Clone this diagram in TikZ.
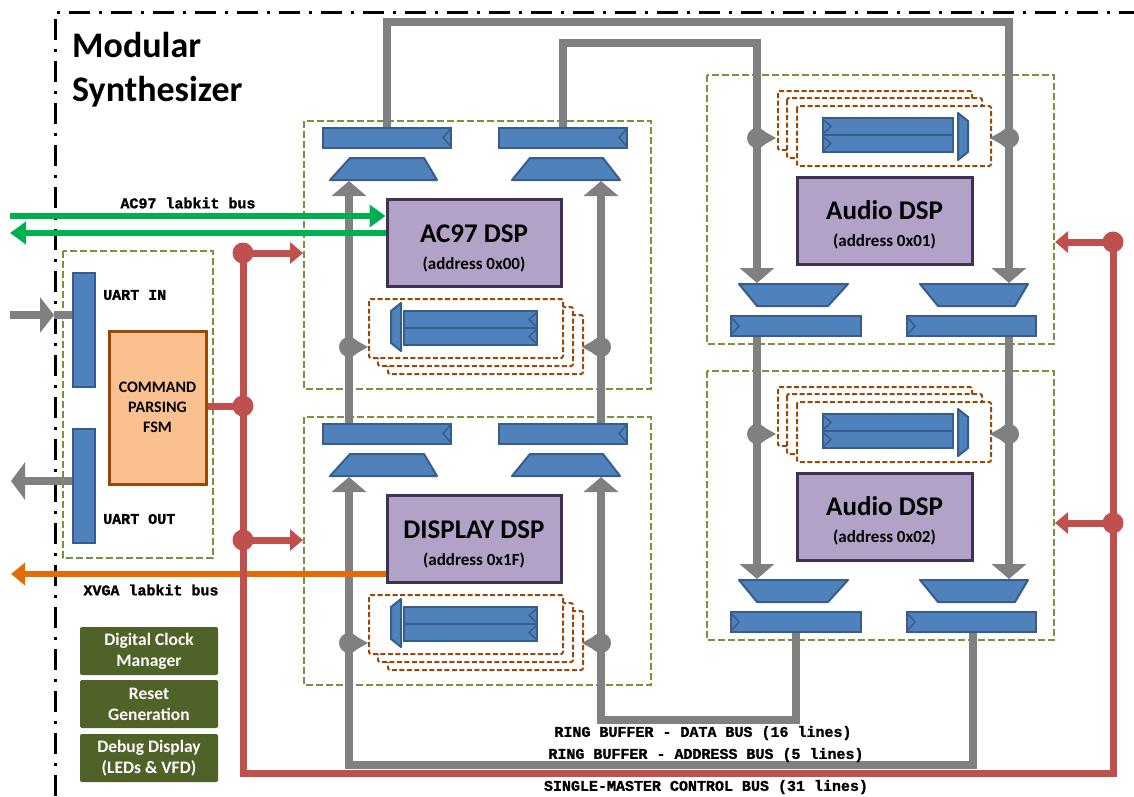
\documentclass[tikz,border=0pt]{standalone}
\usepackage{fontspec}
\setmainfont{Carlito}
\newfontfamily\monofont{Liberation Mono}[BoldFeatures={FakeBold=1.2}]
\usetikzlibrary{arrows.meta,calc}

\definecolor{regfill}{HTML}{4F81BD}
\definecolor{regline}{HTML}{385D8A}
\definecolor{blockgreen}{HTML}{77933C}
\definecolor{bankbrown}{HTML}{984807}
\definecolor{dspfill}{HTML}{B3A2C7}
\definecolor{dspline}{HTML}{3F3151}
\definecolor{busgray}{HTML}{808080}
\definecolor{busred}{HTML}{C0504D}
\definecolor{busgreen}{HTML}{00B050}
\definecolor{busorange}{HTML}{E36C09}
\definecolor{fsmfill}{HTML}{FAC090}
\definecolor{boxgreen}{HTML}{4F6228}

\pgfdeclarelayer{back}
\pgfdeclarelayer{buses}
\pgfsetlayers{back,buses,main}

\tikzset{
  reg/.style={draw=regline, fill=regfill, line width=2pt, inner sep=0pt, minimum width=128pt, minimum height=20pt},
  strip/.style={draw=regline, fill=regfill, line width=2pt, inner sep=0pt, minimum width=133pt, minimum height=17pt},
  uartreg/.style={draw=regline, fill=regfill, line width=2pt, inner sep=0pt, minimum width=22pt, minimum height=114pt},
  chev/.style={draw=regline, line width=1.5pt},
  muxshape/.style={draw=regline, fill=regfill, line width=2pt, line join=round},
  blockbox/.style={draw=blockgreen, line width=2.5pt, dash pattern=on 7pt off 3pt},
  bankbox/.style={draw=bankbrown, fill=white, line width=2pt, dash pattern=on 5pt off 2.5pt, rounded corners=2pt},
  dsp/.style={draw=dspline, fill=dspfill, line width=3pt, inner sep=0pt, align=center,
    minimum width=174pt, minimum height=87pt, font=\bfseries\fontsize{17}{27}\selectfont},
  bus/.style={draw=busgray, line width=8pt},
  busarrow/.style={bus, -{Triangle[width=34pt,length=15pt]}},
  redbus/.style={draw=busred, line width=7pt},
  redarrow/.style={redbus, -{Triangle[width=21pt,length=13pt]}},
  reddot/.style={circle, fill=busred, minimum size=21pt, inner sep=0pt},
  greenarrow/.style={draw=busgreen, line width=6pt, -{Triangle[width=22pt,length=16pt]}},
  orangearrow/.style={draw=busorange, line width=6pt, -{Triangle[width=22pt,length=14pt]}},
  monolabel/.style={font=\monofont\bfseries\fontsize{15}{15}\selectfont, inner sep=0pt},
  fsm/.style={draw=bankbrown, fill=fsmfill, line width=3pt, align=center, inner sep=0pt,
    minimum width=97pt, minimum height=153pt, font=\bfseries\fontsize{16}{20}\selectfont},
  greenbox/.style={fill=boxgreen, text=white, align=center, inner sep=0pt, rounded corners=2pt,
    minimum width=138pt, minimum height=48pt, font=\bfseries\fontsize{17.5}{21}\selectfont},
  frameline/.style={draw=black, line width=3pt, dash pattern=on 21pt off 9pt on 3pt off 9pt}
}

\newcommand\chevR[1]{\draw[chev] ([xshift=-2pt,yshift=-3pt]#1.north east) -- ([xshift=-9pt]#1.east) -- ([xshift=-2pt,yshift=3pt]#1.south east);}
\newcommand\chevL[1]{\draw[chev] ([xshift=2pt,yshift=-3pt]#1.north west) -- ([xshift=9pt]#1.west) -- ([xshift=2pt,yshift=3pt]#1.south west);}

\newcommand\tapmark[4]{%
  \fill[busgray] (#2,{#3}) circle (10pt);
  \fill[busgray] ({#2+3*(#4)},{#3-9}) -- ({#2+19*(#4)},{#3}) -- ({#2+3*(#4)},{#3+9}) -- cycle;
  \coordinate (#1) at (#2,{#3});}

\newcommand\LeftBlock[4]{%
  \begin{pgfonlayer}{back}\draw[blockbox] (304,{121+#2}) rectangle (651,{389+#2});\end{pgfonlayer}
  \node[reg] (#1rl) at (387,{137.5+#2}) {};
  \node[reg] (#1rr) at (563,{137.5+#2}) {};
  \chevR{#1rl}\chevR{#1rr}
  \draw[muxshape] (330,{180+#2}) -- (437,{180+#2}) -- (424,{158+#2}) -- (350,{158+#2}) -- cycle;
  \draw[muxshape] (512,{180+#2}) -- (620,{180+#2}) -- (603,{158+#2}) -- (530,{158+#2}) -- cycle;
  \coordinate (#1ml) at (349,{181+#2});
  \coordinate (#1mr) at (601,{181+#2});
  \node[dsp] (#1dsp) at (474,{242.5+#2}) {{\fontsize{27}{27}\selectfont\rule{0pt}{30pt}#3}\\#4};
  \draw[bankbox] (388,{315+#2}) rectangle (583,{374+#2});
  \draw[bankbox] (378,{307+#2}) rectangle (573,{366+#2});
  \draw[bankbox] (369,{299+#2}) rectangle (563,{358+#2});
  \node[strip] (#1sa) at (470.5,{319.5+#2}) {};
  \node[strip] (#1sb) at (470.5,{336.5+#2}) {};
  \chevR{#1sa}\chevR{#1sb}
  \draw[muxshape] (401,{303+#2}) -- (401,{351+#2}) -- (391,{343+#2}) -- (391,{311+#2}) -- cycle;
  \tapmark{#1tl}{349}{347+#2}{1}
  \tapmark{#1tr}{601}{347+#2}{-1}
}

\newcommand\AudioBlock[3]{%
  \begin{pgfonlayer}{back}\draw[blockbox] (707,{75+#2}) rectangle (1054,{344+#2});\end{pgfonlayer}
  \draw[bankbox] (778,{91+#2}) rectangle (972,{150+#2});
  \draw[bankbox] (787,{98+#2}) rectangle (982,{158+#2});
  \draw[bankbox] (797,{106+#2}) rectangle (991,{166+#2});
  \node[strip, minimum width=130pt] (#1sa) at (888,{126.5+#2}) {};
  \node[strip, minimum width=130pt] (#1sb) at (888,{143.5+#2}) {};
  \chevL{#1sa}\chevL{#1sb}
  \draw[muxshape] (958,{113+#2}) -- (958,{160+#2}) -- (968,{152+#2}) -- (968,{121+#2}) -- cycle;
  \tapmark{#1tl}{757}{138+#2}{1}
  \tapmark{#1tr}{1009}{138+#2}{-1}
  \node[dsp, minimum width=175pt] (#1dsp) at (884.5,{220.5+#2}) {{\fontsize{27}{27}\selectfont\rule{0pt}{28pt}Audio DSP}\\#3};
  \draw[muxshape] (739,{284+#2}) -- (848,{284+#2}) -- (828,{306+#2}) -- (757,{306+#2}) -- cycle;
  \draw[muxshape] (920,{284+#2}) -- (1028,{284+#2}) -- (1015,{306+#2}) -- (938,{306+#2}) -- cycle;
  \coordinate (#1ml) at (757,{283+#2});
  \coordinate (#1mr) at (1009,{283+#2});
  \node[reg, minimum width=130pt] (#1rl) at (796,{326+#2}) {};
  \node[reg, minimum width=129pt] (#1rr) at (971.5,{326+#2}) {};
  \chevL{#1rl}\chevL{#1rr}
}

\begin{document}
\begin{tikzpicture}[x=1pt,y=-1pt]
\begin{pgfonlayer}{back}
  \fill[white] (0,0) rectangle (1134,796);
\end{pgfonlayer}
\useasboundingbox (0,0) rectangle (1134,796);

% outer frame
\draw[frameline] (55,796) -- (55,12) -- (1134,12);

% title
\node[anchor=north west, align=left, inner sep=0pt, font=\bfseries\fontsize{36}{44}\selectfont] (title) at (72,32) {Modular\\Synthesizer};

% blocks
\LeftBlock{A}{0}{AC97 DSP}{(address 0x00)}
\LeftBlock{D}{296}{DISPLAY DSP}{(address 0x1F)}
\AudioBlock{P}{0}{(address 0x01)}
\AudioBlock{Q}{296}{(address 0x02)}

% UART block
\begin{pgfonlayer}{back}\draw[blockbox] (63,251) rectangle (213,558);\end{pgfonlayer}
\node[uartreg] (uin) at (84,330) {};
\node[uartreg] (uout) at (84,486) {};
\node[monolabel, anchor=west] (uinlbl) at (103,295) {UART IN};
\node[monolabel, anchor=west] (uoutlbl) at (103,519) {UART OUT};
\node[fsm] (fsm) at (157.5,407.5) {COMMAND\\PARSING\\FSM};

\coordinate (uinsrc) at (10,315);
\coordinate (uinhead) at (54,315);
\coordinate (uoutdst) at (11,481);
\draw[bus, -{Triangle[width=35pt,length=14pt]}] (uinsrc) -- (uinhead);
\draw[bus] (uinhead) -- (uinhead -| uin.west);
\draw[bus, -{Triangle[width=37pt,length=14pt]}] (uoutdst -| uout.west) -- (uoutdst);

% bottom-left boxes
\node[greenbox] (dcm) at (149,651) {Digital Clock\\Manager};
\node[greenbox] (rst) at (149,704) {Reset\\Generation};
\node[greenbox] (dbg) at (149,758) {Debug Display\\(LEDs \& VFD)};

% gray ring buses
\coordinate (topA) at (387,22);
\coordinate (topB) at (563,43);
\coordinate (loopD) at (796,720);
\coordinate (loopE) at (973,765);
\begin{pgfonlayer}{buses}
  \draw[busarrow] (Arl.north) -- (Arl.north |- topA) -- (topA -| Pmr) -- (Pmr);
  \draw[busarrow] (Arr.north) -- (Arr.north |- topB) -- (topB -| Pml) -- (Pml);
  \draw[busarrow] (Pml |- Prl.south) -- (Qml);
  \draw[busarrow] (Pmr |- Prr.south) -- (Qmr);
  \draw[busarrow] (Qrl.south) -- (Qrl.south |- loopD) -- (loopD -| Dmr) -- (Dmr);
  \draw[busarrow] (loopE |- Qrr.south) -- (loopE) -- (loopE -| Dml) -- (Dml);
  \draw[busarrow] (Dml |- Drl.north) -- (Aml);
  \draw[busarrow] (Dmr |- Drr.north) -- (Amr);
\end{pgfonlayer}

% labkit buses
\coordinate (acin) at (10,216);
\coordinate (acout) at (10,233);
\coordinate (vgaout) at (11,574);
\draw[greenarrow] (acin) -- (acin -| Adsp.west);
\draw[greenarrow] (acout -| Adsp.west) -- (acout);
\draw[orangearrow] (vgaout -| Ddsp.west) -- (vgaout);
\node[monolabel] (aclbl) at (188,203) {AC97 labkit bus};
\node[monolabel] (vgalbl) at (151,590) {XVGA labkit bus};

% red control bus
\node[reddot] (d1) at (243,253) {};
\node[reddot] (d2) at (243,406) {};
\node[reddot] (d3) at (243,540) {};
\node[reddot] (e1) at (1113,242) {};
\node[reddot] (e2) at (1113,523) {};
\coordinate (redbot) at (243,773);
\draw[redbus] (d1.center) -- (redbot) -- (redbot -| e1.center) -- (e1.center);
\draw[redbus] (fsm.east |- d2) -- (d2.center);
\draw[redarrow] (d1.center) -- (303,253);
\draw[redarrow] (d3.center) -- (303,540);
\draw[redarrow] (e1.center) -- (1055,242);
\draw[redarrow] (e2.center) -- (1055,523);

% bus labels
\node[monolabel] (lbldata) at (703,733) {RING BUFFER - DATA BUS (16 lines)};
\node[monolabel] (lbladdr) at (706,755) {RING BUFFER - ADDRESS BUS (5 lines)};
\node[monolabel] (lblctrl) at (706,787) {SINGLE-MASTER CONTROL BUS (31 lines)};
\end{tikzpicture}
\end{document}
